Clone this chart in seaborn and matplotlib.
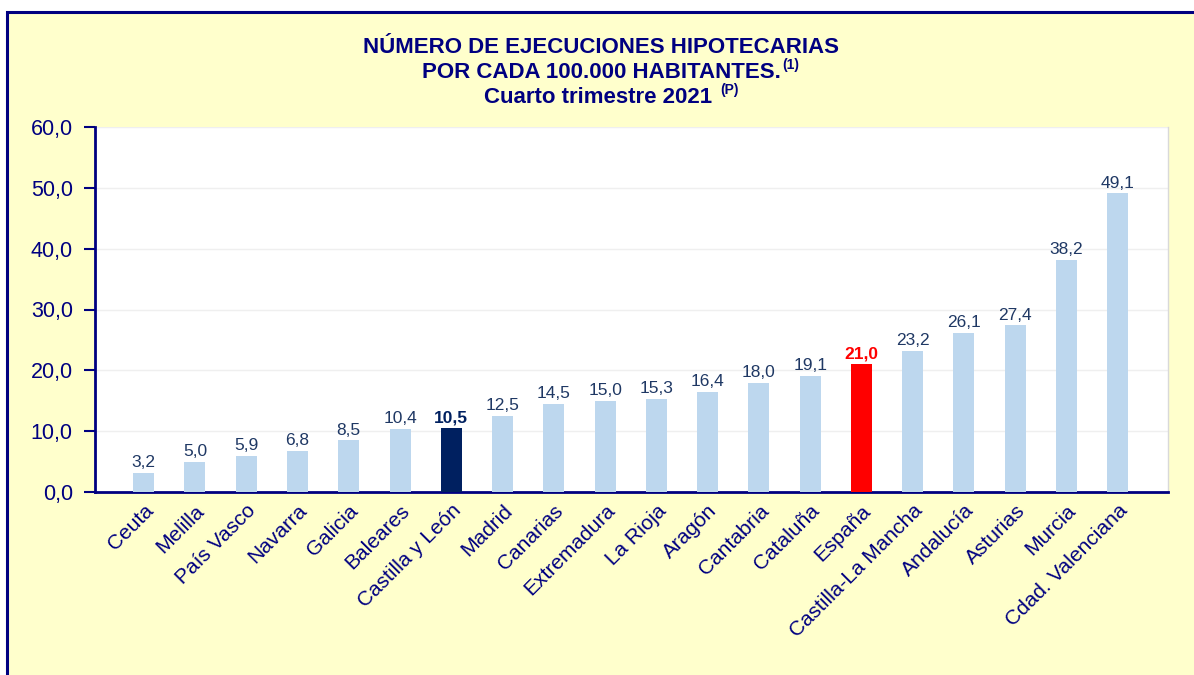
import numpy as np
import pandas as pd
import matplotlib
matplotlib.use("Agg")
import matplotlib.pyplot as plt
from matplotlib.patches import Rectangle
from matplotlib.text import Annotation
import seaborn as sns

sns.set_style("white")
plt.rcParams['font.family'] = ['Liberation Sans', 'DejaVu Sans']

regions = ['Ceuta', 'Melilla', 'País Vasco', 'Navarra', 'Galicia', 'Baleares',
           'Castilla y León', 'Madrid', 'Canarias', 'Extremadura', 'La Rioja',
           'Aragón', 'Cantabria', 'Cataluña', 'España', 'Castilla-La Mancha',
           'Andalucía', 'Asturias', 'Murcia', 'Cdad. Valenciana']
rate = [3.2, 5.0, 5.9, 6.8, 8.5, 10.4, 10.5, 12.5, 14.5, 15.0, 15.3,
        16.4, 18.0, 19.1, 21.0, 23.2, 26.1, 27.4, 38.2, 49.1]
highlight = {'Castilla y León': '#002060', 'España': '#FF0000'}

navy = '#000080'
light = '#BDD7EE'
lab_col = '#1F3864'

df = pd.DataFrame({'region': regions, 'rate': rate})
palette = [highlight.get(r, light) for r in regions]

fig = plt.figure(figsize=(11.94, 6.75), dpi=100, facecolor='white')
# yellow panel with navy border (top + left)
fig.patches.append(Rectangle((7 / 1194, -0.1), 1.2, 0.1 + (675 - 12) / 675,
                             transform=fig.transFigure, facecolor='#FFFFCC',
                             edgecolor=navy, linewidth=2.2, zorder=-5))

ax = fig.add_axes([95 / 1194, (675 - 492) / 675, (1168 - 95) / 1194, (492 - 127) / 675])
ax.set_zorder(2)
ax.set_facecolor('white')

sns.barplot(data=df, x='region', y='rate', hue='region', palette=palette,
            legend=False, width=0.41, saturation=1, linewidth=0, ax=ax, zorder=3)

ax.set_xlim(-0.95, 19.98)
ax.set_ylim(0, 60)
ax.set_yticks(np.arange(0, 61, 10))
ax.set_yticklabels([f"{v:.1f}".replace('.', ',') for v in np.arange(0, 61, 10)],
                   fontsize=15.5, color=navy)
ax.yaxis.grid(True, color='#EFEFEF', linewidth=1)
ax.set_axisbelow(True)
ax.tick_params(axis='y', left=True, length=8, width=1.5, color=navy, pad=8)
ax.tick_params(axis='x', bottom=False, pad=3)
ax.set_xticks(range(len(regions)))
ax.set_xticklabels(regions, rotation=45, ha='right', va='top',
                   rotation_mode='anchor', fontsize=15, color=navy)
ax.set_xlabel('')
ax.set_ylabel('')

for side in ['left', 'bottom']:
    ax.spines[side].set_color(navy)
    ax.spines[side].set_linewidth(2)
ax.spines['top'].set_visible(False)
ax.spines['right'].set_color('#D9D9D9')
ax.spines['right'].set_linewidth(1)

for cont in ax.containers:
    labels = [f"{b.get_height():.1f}".replace('.', ',') for b in cont]
    txts = ax.bar_label(cont, labels=labels, padding=2, fontsize=12.5, color=lab_col)
    for b, t in zip(cont, txts):
        hexcol = matplotlib.colors.to_hex(b.get_facecolor())
        if hexcol in ('#ff0000', '#002060'):
            t.set_color(hexcol)
            t.set_fontweight('bold')

# title
tx = 601 / 1194
t1 = fig.text(tx, 1 - 53 / 675, 'NÚMERO DE EJECUCIONES HIPOTECARIAS', ha='center',
              va='baseline', fontsize=16, fontweight='bold', color=navy)
t2 = fig.text(tx, 1 - 78 / 675, 'POR CADA 100.000 HABITANTES.', ha='center',
              va='baseline', fontsize=16, fontweight='bold', color=navy)
t3 = fig.text(tx, 1 - 103 / 675, 'Cuarto trimestre 2021 ', ha='center',
              va='baseline', fontsize=16, fontweight='bold', color=navy)
for t, s in [(t2, '(1)'), (t3, '(P)')]:
    fig.add_artist(Annotation(
        s, xy=(1, 1), xycoords=t, xytext=(1.5, 3), textcoords='offset points',
        ha='left', va='top', fontsize=10, fontweight='bold', color=navy))

fig.savefig('out.png', dpi=100, facecolor=fig.get_facecolor())
